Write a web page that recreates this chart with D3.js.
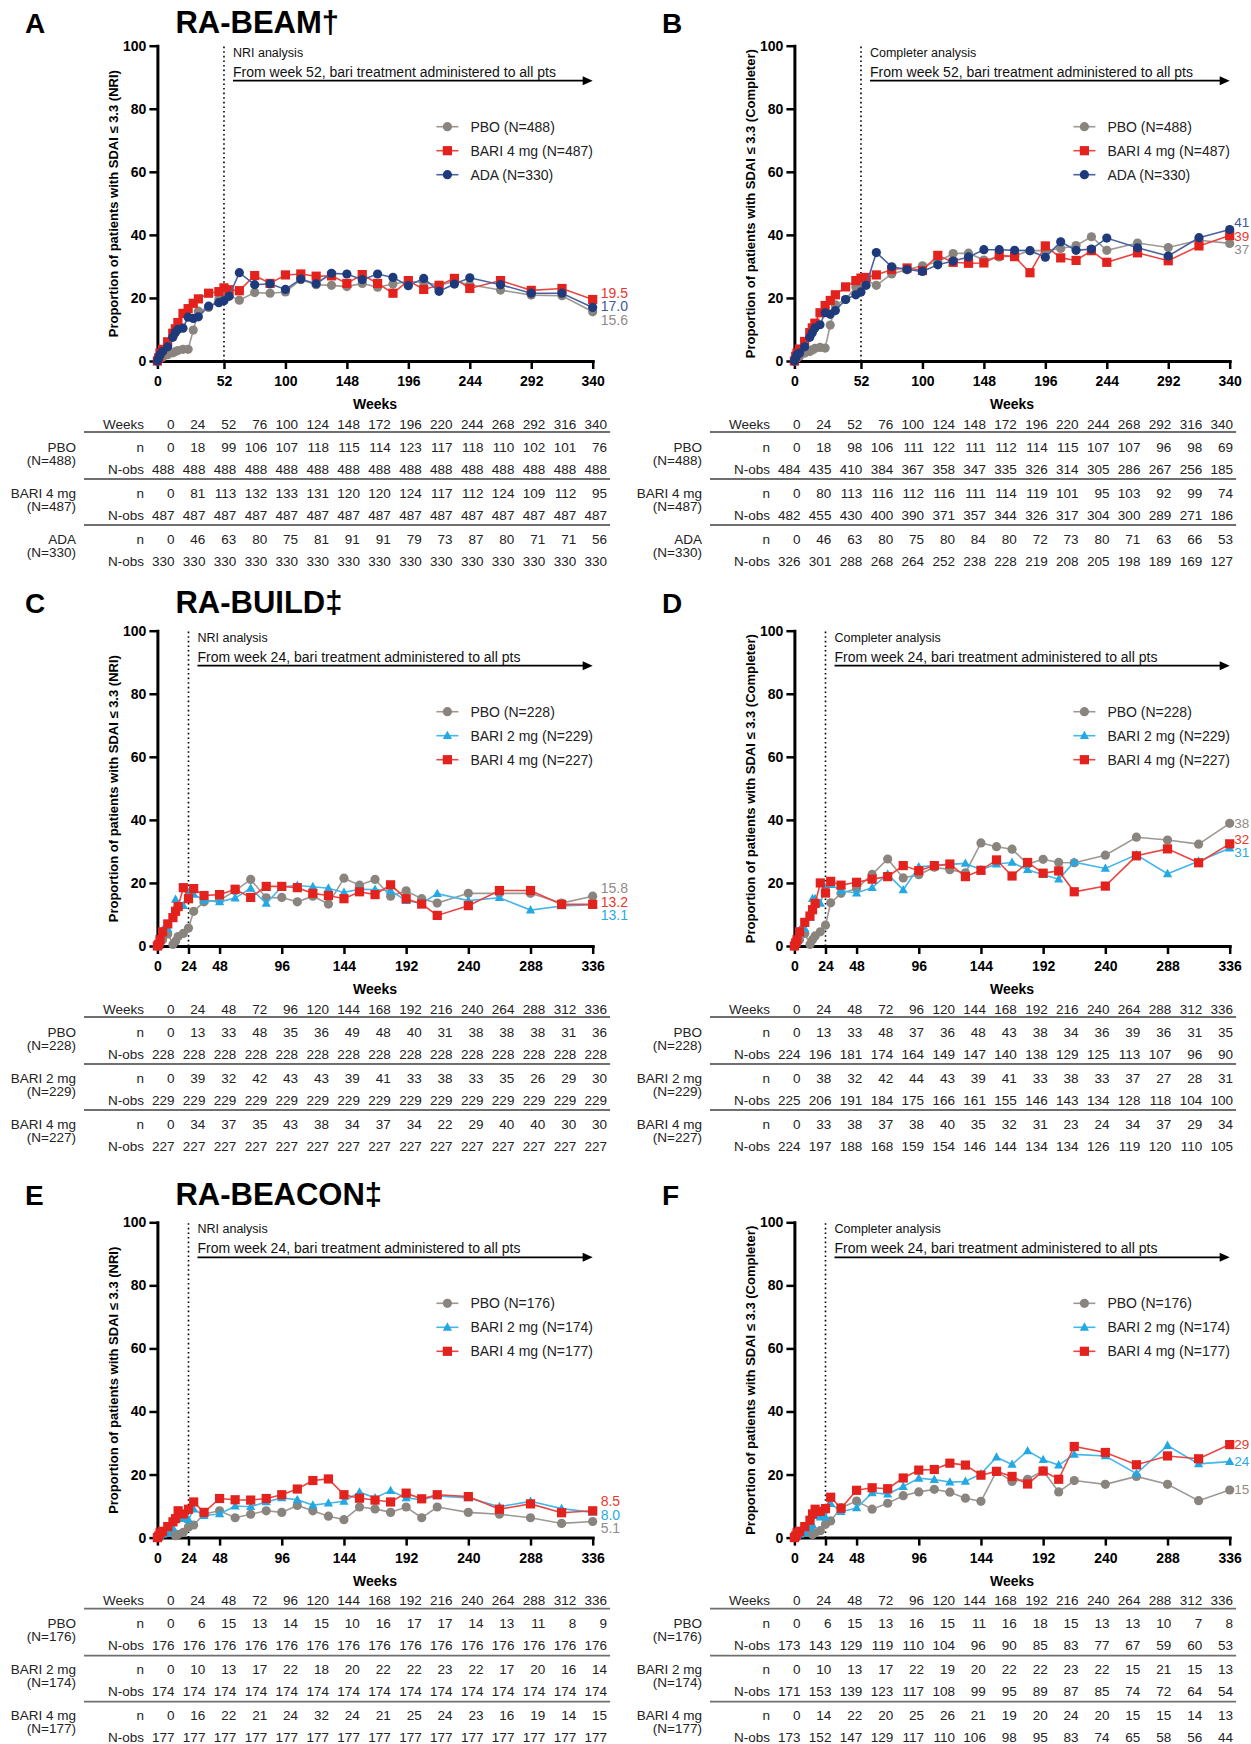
<!DOCTYPE html>
<html><head><meta charset="utf-8">
<script src="https://cdn.jsdelivr.net/npm/d3@7"></script>
<style>
body{margin:0;background:#fff;}
svg{display:block;font-family:Arial,"Liberation Sans",Helvetica,sans-serif;}
</style>
</head><body>
<svg id="c" width="1251" height="1744"></svg>
<script>
// ---------- axis ticks ----------
const yTicks = [0,20,40,60,80,100];
const xTicksBEAM = [0,52,100,148,196,244,292,340];
const xTicksBUILD = [0,24,48,96,144,192,240,288,336];

// ---------- visit weeks ----------
const visitsBEAM = [0,1,2,4,8,12,14,16,20,24,28,32,40,48,52,56,64,76,88,100,112,124,136,148,160,172,184,196,208,220,232,244,268,292,316,340];
const visitsBUILD = [0,1,2,4,8,12,14,16,20,24,28,36,48,60,72,84,96,108,120,132,144,156,168,180,192,204,216,240,264,288,312,336];

// ---------- series (% of patients with SDAI <= 3.3) ----------
const A_PBO   = [0,0.4,0.8,1.2,2.0,2.6,3.0,3.3,3.7,3.7,9.8,15.8,17.0,19.5,20.3,20.8,19.3,21.7,21.5,21.9,25.8,24.2,24.0,23.6,24.6,23.4,24.4,25.2,25.0,24.0,25.3,24.2,22.5,20.9,20.7,15.6];
const A_BARI4 = [0,1.0,2.5,3.7,6.1,8.8,10.2,12.2,15.1,16.6,18.3,19.7,21.5,22.0,23.2,22.6,22.3,27.1,24.6,27.3,27.6,26.9,27.0,24.6,27.4,24.6,21.5,25.5,22.7,24.0,26.2,23.0,25.5,22.4,23.0,19.5];
const A_ADA   = [0,1.0,2.0,3.0,4.5,7.5,9.0,10.0,10.4,13.9,13.5,14.0,17.4,18.5,19.1,20.5,28.0,24.2,24.5,22.7,26.0,24.5,27.8,27.6,25.8,27.6,26.5,23.9,26.2,22.1,24.4,26.4,24.2,21.5,21.5,17.0];

const B_PBO   = [0,0.5,1.0,1.5,2.5,3.0,3.5,4.0,4.3,4.1,11.4,17.8,19.5,23.5,23.9,25.6,24.0,27.6,29.0,30.2,31.5,34.1,34.2,32.0,33.0,33.4,35.0,35.0,35.7,36.6,39.4,35.1,37.4,36.0,38.3,37.3];
const B_BARI4 = [0,1.5,2.5,3.8,6.2,9.0,10.5,12.0,15.3,17.6,19.2,21.0,23.5,25.5,26.3,26.5,27.3,29.0,29.5,28.7,33.5,31.3,31.0,31.1,33.5,33.1,28.0,36.5,32.7,31.9,35.0,31.3,34.3,31.8,36.5,39.8];
const B_ADA   = [0,1.0,2.0,2.5,4.5,7.5,9.0,10.5,11.5,15.3,14.8,16.0,19.5,21.0,21.9,24.0,34.4,29.9,29.0,28.4,30.5,31.7,33.0,35.3,35.3,35.1,35.0,32.9,37.8,35.1,35.5,39.0,35.9,33.3,39.1,41.7];

const C_PBO   = [0,0.5,1.0,2.0,3.8,0.5,1.5,3.0,4.0,5.7,11.0,14.0,14.5,17.5,21.1,15.3,15.4,14.0,15.8,13.3,21.5,19.3,21.1,15.8,17.5,15.0,13.6,16.7,16.7,16.7,13.6,15.8];
const C_BARI2 = [0,1.0,2.5,5.0,5.5,10.0,14.8,12.5,12.8,17.0,16.4,14.5,14.0,15.2,18.3,13.5,18.8,19.2,18.8,18.3,17.0,18.0,17.9,17.5,14.4,13.5,16.6,14.4,15.3,11.4,12.7,13.1];
const C_BARI4 = [0,0.5,2.0,4.5,7.0,9.0,11.0,12.5,18.5,15.0,18.2,16.0,16.3,18.0,15.4,18.9,18.9,18.5,16.7,16.0,15.0,17.2,16.3,19.4,15.0,13.3,9.7,12.8,17.6,17.6,13.2,13.2];

const D_PBO   = [0,0.5,1.0,2.0,4.0,0.5,2.0,3.2,4.5,6.6,13.7,16.7,18.2,22.7,27.6,21.6,22.6,25.0,24.2,23.2,32.7,31.5,30.7,26.0,27.5,26.5,26.4,28.8,34.5,33.6,32.3,38.9];
const D_BARI2 = [0,1.0,2.5,5.0,5.5,9.0,15.0,15.0,13.5,18.4,19.5,17.5,16.8,18.5,22.8,17.8,25.1,25.5,25.9,26.2,24.2,26.0,26.5,24.2,22.6,21.2,26.6,24.6,28.9,22.9,26.9,31.0];
const D_BARI4 = [0,1.0,2.0,4.5,7.5,9.5,11.5,13.5,20.0,16.8,20.5,19.3,20.2,21.2,22.0,25.5,23.9,25.5,26.0,22.0,24.0,27.3,22.2,26.5,23.1,23.8,17.2,19.0,28.6,30.8,26.4,32.4];

const E_PBO   = [0,0.5,1.0,1.5,2.2,1.5,0.6,1.0,1.7,3.4,4.0,7.5,8.5,6.3,7.4,8.5,8.0,10.2,8.5,6.8,5.7,9.7,9.1,8.0,9.7,6.3,9.7,8.0,7.4,6.3,4.5,5.1];
const E_BARI2 = [0,0.3,0.5,1.0,1.5,3.0,6.0,6.2,6.0,5.7,9.0,7.0,7.5,10.0,9.8,11.3,12.6,12.0,10.3,10.9,11.5,14.4,12.6,14.9,12.6,12.0,13.2,12.6,9.8,11.5,9.2,8.0];
const E_BARI4 = [0,0.5,1.5,2.0,3.5,5.0,6.0,8.5,7.5,9.0,11.3,8.0,12.4,12.0,11.9,12.4,13.6,15.4,18.1,18.6,13.6,12.5,11.9,11.3,14.1,12.3,13.6,13.0,9.0,10.7,7.9,8.5];

const F_PBO   = [0,0.5,1.0,1.5,2.2,3.0,1.0,1.5,2.2,4.2,5.3,9.5,11.6,9.0,10.9,13.3,14.5,15.3,14.4,12.5,11.5,21.0,17.8,18.5,21.2,14.5,18.1,16.9,19.4,16.9,11.7,15.1];
const F_BARI2 = [0,0.3,0.5,1.0,1.5,3.0,4.0,7.0,6.5,6.5,10.8,8.2,9.4,14.2,13.8,16.2,18.8,18.4,17.6,17.8,20.2,25.5,23.2,27.5,24.7,23.0,26.4,25.9,20.3,29.2,23.4,24.1];
const F_BARI4 = [0,0.5,1.5,2.0,3.5,5.5,7.5,9.0,8.3,9.2,12.8,9.3,15.0,15.8,15.5,18.9,21.4,21.6,23.6,23.0,19.8,21.0,19.4,17.0,21.1,18.5,28.9,27.0,23.1,25.9,25.0,29.5];

// end-of-line labels (series order), as shown in the picture
const endA = ['15.6','19.5','17.0'];
const endB = ['37','39','41'];
const endC = ['15.8','13.1','13.2'];
const endD = ['38','31','32'];
const endE = ['5.1','8.0','8.5'];
const endF = ['15','24','29'];

// ---------- tables ----------
const tWeeksBEAM  = [0,24,52,76,100,124,148,172,196,220,244,268,292,316,340];
const tWeeksBUILD = [0,24,48,72,96,120,144,168,192,216,240,264,288,312,336];

const tA_PBO_n    = [0,18,99,106,107,118,115,114,123,117,118,110,102,101,76];
const tA_PBO_obs  = [488,488,488,488,488,488,488,488,488,488,488,488,488,488,488];
const tA_BARI4_n  = [0,81,113,132,133,131,120,120,124,117,112,124,109,112,95];
const tA_BARI4_obs= [487,487,487,487,487,487,487,487,487,487,487,487,487,487,487];
const tA_ADA_n    = [0,46,63,80,75,81,91,91,79,73,87,80,71,71,56];
const tA_ADA_obs  = [330,330,330,330,330,330,330,330,330,330,330,330,330,330,330];

const tB_PBO_n    = [0,18,98,106,111,122,111,112,114,115,107,107,96,98,69];
const tB_PBO_obs  = [484,435,410,384,367,358,347,335,326,314,305,286,267,256,185];
const tB_BARI4_n  = [0,80,113,116,112,116,111,114,119,101,95,103,92,99,74];
const tB_BARI4_obs= [482,455,430,400,390,371,357,344,326,317,304,300,289,271,186];
const tB_ADA_n    = [0,46,63,80,75,80,84,80,72,73,80,71,63,66,53];
const tB_ADA_obs  = [326,301,288,268,264,252,238,228,219,208,205,198,189,169,127];

const tC_PBO_n    = [0,13,33,48,35,36,49,48,40,31,38,38,38,31,36];
const tC_PBO_obs  = [228,228,228,228,228,228,228,228,228,228,228,228,228,228,228];
const tC_BARI2_n  = [0,39,32,42,43,43,39,41,33,38,33,35,26,29,30];
const tC_BARI2_obs= [229,229,229,229,229,229,229,229,229,229,229,229,229,229,229];
const tC_BARI4_n  = [0,34,37,35,43,38,34,37,34,22,29,40,40,30,30];
const tC_BARI4_obs= [227,227,227,227,227,227,227,227,227,227,227,227,227,227,227];

const tD_PBO_n    = [0,13,33,48,37,36,48,43,38,34,36,39,36,31,35];
const tD_PBO_obs  = [224,196,181,174,164,149,147,140,138,129,125,113,107,96,90];
const tD_BARI2_n  = [0,38,32,42,44,43,39,41,33,38,33,37,27,28,31];
const tD_BARI2_obs= [225,206,191,184,175,166,161,155,146,143,134,128,118,104,100];
const tD_BARI4_n  = [0,33,38,37,38,40,35,32,31,23,24,34,37,29,34];
const tD_BARI4_obs= [224,197,188,168,159,154,146,144,134,134,126,119,120,110,105];

const tE_PBO_n    = [0,6,15,13,14,15,10,16,17,17,14,13,11,8,9];
const tE_PBO_obs  = [176,176,176,176,176,176,176,176,176,176,176,176,176,176,176];
const tE_BARI2_n  = [0,10,13,17,22,18,20,22,22,23,22,17,20,16,14];
const tE_BARI2_obs= [174,174,174,174,174,174,174,174,174,174,174,174,174,174,174];
const tE_BARI4_n  = [0,16,22,21,24,32,24,21,25,24,23,16,19,14,15];
const tE_BARI4_obs= [177,177,177,177,177,177,177,177,177,177,177,177,177,177,177];

const tF_PBO_n    = [0,6,15,13,16,15,11,16,18,15,13,13,10,7,8];
const tF_PBO_obs  = [173,143,129,119,110,104,96,90,85,83,77,67,59,60,53];
const tF_BARI2_n  = [0,10,13,17,22,19,20,22,22,23,22,15,21,15,13];
const tF_BARI2_obs= [171,153,139,123,117,108,99,95,89,87,85,74,72,64,54];
const tF_BARI4_n  = [0,14,22,20,25,26,21,19,20,24,20,15,15,14,13];
const tF_BARI4_obs= [173,152,147,129,117,110,106,98,95,83,74,65,58,56,44];

// ---------- styles ----------
const styles = {
  pbo:   {fill:'#8a847f', line:'#9d9893', shape:'circle',   label:'#8f8b87'},
  bari4: {fill:'#e3221e', line:'#ea4541', shape:'square',   label:'#e8392f'},
  ada:   {fill:'#1e3a7a', line:'#4863a0', shape:'circle',   label:'#3b5a9a'},
  bari2: {fill:'#22a8e2', line:'#45b6e8', shape:'triangle', label:'#29abe2'}
};

const ylabNRI = 'Proportion of patients with SDAI \u2264 3.3 (NRI)';
const ylabComp = 'Proportion of patients with SDAI \u2264 3.3 (Completer)';
const from52 = 'From week 52, bari treatment administered to all pts';
const from24 = 'From week 24, bari treatment administered to all pts';

const panels = [
  {letter:'A', title:'RA-BEAM\u2020', col:0, row:0, visits:visitsBEAM, xmax:340, xticks:xTicksBEAM, cut:52,
   analysis:'NRI analysis', from:from52, ylab:ylabNRI, ends:endA,
   series:[{name:'PBO (N=488)',k:'pbo',v:A_PBO},{name:'BARI 4 mg (N=487)',k:'bari4',v:A_BARI4},{name:'ADA (N=330)',k:'ada',v:A_ADA}],
   tweeks:tWeeksBEAM,
   groups:[{l:['PBO','(N=488)'],n:tA_PBO_n,o:tA_PBO_obs},{l:['BARI 4 mg','(N=487)'],n:tA_BARI4_n,o:tA_BARI4_obs},{l:['ADA','(N=330)'],n:tA_ADA_n,o:tA_ADA_obs}]},
  {letter:'B', title:null, col:1, row:0, visits:visitsBEAM, xmax:340, xticks:xTicksBEAM, cut:52,
   analysis:'Completer analysis', from:from52, ylab:ylabComp, ends:endB,
   series:[{name:'PBO (N=488)',k:'pbo',v:B_PBO},{name:'BARI 4 mg (N=487)',k:'bari4',v:B_BARI4},{name:'ADA (N=330)',k:'ada',v:B_ADA}],
   tweeks:tWeeksBEAM,
   groups:[{l:['PBO','(N=488)'],n:tB_PBO_n,o:tB_PBO_obs},{l:['BARI 4 mg','(N=487)'],n:tB_BARI4_n,o:tB_BARI4_obs},{l:['ADA','(N=330)'],n:tB_ADA_n,o:tB_ADA_obs}]},
  {letter:'C', title:'RA-BUILD\u2021', col:0, row:1, visits:visitsBUILD, xmax:336, xticks:xTicksBUILD, cut:24,
   analysis:'NRI analysis', from:from24, ylab:ylabNRI, ends:endC,
   series:[{name:'PBO (N=228)',k:'pbo',v:C_PBO},{name:'BARI 2 mg (N=229)',k:'bari2',v:C_BARI2},{name:'BARI 4 mg (N=227)',k:'bari4',v:C_BARI4}],
   tweeks:tWeeksBUILD,
   groups:[{l:['PBO','(N=228)'],n:tC_PBO_n,o:tC_PBO_obs},{l:['BARI 2 mg','(N=229)'],n:tC_BARI2_n,o:tC_BARI2_obs},{l:['BARI 4 mg','(N=227)'],n:tC_BARI4_n,o:tC_BARI4_obs}]},
  {letter:'D', title:null, col:1, row:1, visits:visitsBUILD, xmax:336, xticks:xTicksBUILD, cut:24,
   analysis:'Completer analysis', from:from24, ylab:ylabComp, ends:endD,
   series:[{name:'PBO (N=228)',k:'pbo',v:D_PBO},{name:'BARI 2 mg (N=229)',k:'bari2',v:D_BARI2},{name:'BARI 4 mg (N=227)',k:'bari4',v:D_BARI4}],
   tweeks:tWeeksBUILD,
   groups:[{l:['PBO','(N=228)'],n:tD_PBO_n,o:tD_PBO_obs},{l:['BARI 2 mg','(N=229)'],n:tD_BARI2_n,o:tD_BARI2_obs},{l:['BARI 4 mg','(N=227)'],n:tD_BARI4_n,o:tD_BARI4_obs}]},
  {letter:'E', title:'RA-BEACON\u2021', col:0, row:2, visits:visitsBUILD, xmax:336, xticks:xTicksBUILD, cut:24,
   analysis:'NRI analysis', from:from24, ylab:ylabNRI, ends:endE,
   series:[{name:'PBO (N=176)',k:'pbo',v:E_PBO},{name:'BARI 2 mg (N=174)',k:'bari2',v:E_BARI2},{name:'BARI 4 mg (N=177)',k:'bari4',v:E_BARI4}],
   tweeks:tWeeksBUILD,
   groups:[{l:['PBO','(N=176)'],n:tE_PBO_n,o:tE_PBO_obs},{l:['BARI 2 mg','(N=174)'],n:tE_BARI2_n,o:tE_BARI2_obs},{l:['BARI 4 mg','(N=177)'],n:tE_BARI4_n,o:tE_BARI4_obs}]},
  {letter:'F', title:null, col:1, row:2, visits:visitsBUILD, xmax:336, xticks:xTicksBUILD, cut:24,
   analysis:'Completer analysis', from:from24, ylab:ylabComp, ends:endF,
   series:[{name:'PBO (N=176)',k:'pbo',v:F_PBO},{name:'BARI 2 mg (N=174)',k:'bari2',v:F_BARI2},{name:'BARI 4 mg (N=177)',k:'bari4',v:F_BARI4}],
   tweeks:tWeeksBUILD,
   groups:[{l:['PBO','(N=176)'],n:tF_PBO_n,o:tF_PBO_obs},{l:['BARI 2 mg','(N=174)'],n:tF_BARI2_n,o:tF_BARI2_obs},{l:['BARI 4 mg','(N=177)'],n:tF_BARI4_n,o:tF_BARI4_obs}]}
];

// ---------- layout ----------
const rowTops = [45.7, 630.7, 1222.3];
const titleBase = [33, 613, 1205];
const PW = 435.3, PH = 315.3;
const colLeft = [157.4, 794.4];
const tblOff = [0, 626];

const svg = d3.select('#c');
svg.append('rect').attr('width',1251).attr('height',1744).attr('fill','#fff');

function marker(g, k, cx, cy){
  const s = styles[k];
  if (s.shape==='circle'){
    g.append('circle').attr('cx',cx).attr('cy',cy).attr('r',4.6).attr('fill',s.fill);
  } else if (s.shape==='square'){
    g.append('rect').attr('x',cx-4.6).attr('y',cy-4.6).attr('width',9.2).attr('height',9.2).attr('fill',s.fill);
  } else {
    const h = 8;
    g.append('path').attr('d',`M${cx},${cy-h*0.62}L${cx+4.6},${cy+h*0.42}L${cx-4.6},${cy+h*0.42}Z`).attr('fill',s.fill);
  }
}

panels.forEach(p => {
  const left = colLeft[p.col], top = rowTops[p.row];
  const x = d3.scaleLinear().domain([0,p.xmax]).range([left, left+PW]);
  const y = d3.scaleLinear().domain([0,100]).range([top+PH, top]);
  const g = svg.append('g');

  // panel letter and title
  g.append('text').attr('x', left-132.5).attr('y', titleBase[p.row]).text(p.letter)
    .attr('font-size',28).attr('font-weight','bold').attr('fill','#000');
  if (p.title) g.append('text').attr('x', left+18).attr('y', titleBase[p.row]).text(p.title)
    .attr('font-size',31).attr('font-weight','bold').attr('fill','#000');

  // y axis
  const ya = g.append('g').attr('transform',`translate(${left},0)`)
    .call(d3.axisLeft(y).tickValues(yTicks).tickSize(8).tickSizeOuter(0).tickPadding(3));
  // x axis
  const xa = g.append('g').attr('transform',`translate(0,${top+PH})`)
    .call(d3.axisBottom(x).tickValues(p.xticks).tickSize(8).tickSizeOuter(0).tickPadding(7));
  [ya, xa].forEach(a => {
    a.select('.domain').attr('stroke','#000').attr('stroke-width',3).attr('stroke-linecap','square');
    a.selectAll('.tick line').attr('stroke','#000').attr('stroke-width',2.5);
    a.selectAll('.tick text').attr('font-size',14).attr('font-weight','bold')
      .attr('font-family','Arial,"Liberation Sans",sans-serif').attr('fill','#000');
  });

  // axis titles
  g.append('text').attr('transform',`translate(${left-44},${top+158}) rotate(-90)`)
    .attr('text-anchor','middle').attr('dominant-baseline','central')
    .attr('font-size',13).attr('font-weight','bold').text(p.ylab);
  g.append('text').attr('x', left+PW/2).attr('y', top+PH+43).attr('text-anchor','middle')
    .attr('dominant-baseline','central').attr('font-size',14).attr('font-weight','bold').text('Weeks');

  // dotted line at cut week
  const xc = x(p.cut);
  g.append('line').attr('x1',xc).attr('x2',xc).attr('y1',y(0)).attr('y2',y(100))
    .attr('stroke','#000').attr('stroke-width',1.6).attr('stroke-dasharray','1.6,3');
  g.append('text').attr('x',xc+9).attr('y',top+7).attr('dominant-baseline','central')
    .attr('font-size',12.5).attr('fill','#111').text(p.analysis);
  g.append('text').attr('x',xc+9).attr('y',top+26).attr('dominant-baseline','central')
    .attr('font-size',14).attr('fill','#111').text(p.from);
  const ay = top+35, ax2 = x(p.xmax);
  g.append('line').attr('x1',xc+9).attr('x2',ax2-8).attr('y1',ay).attr('y2',ay)
    .attr('stroke','#000').attr('stroke-width',1.8);
  g.append('path').attr('d',`M${ax2},${ay}L${ax2-10},${ay-4.5}L${ax2-10},${ay+4.5}Z`).attr('fill','#000');

  // series
  p.series.forEach(s => {
    const st = styles[s.k];
    const pts = p.visits.map((w,i)=>[x(w), y(s.v[i])]);
    g.append('path').attr('d', d3.line()(pts)).attr('fill','none')
      .attr('stroke',st.line).attr('stroke-width',1.6);
    pts.forEach(pt => marker(g, s.k, pt[0], pt[1]));
  });

  // end labels
  const labs = p.series.map((s,i) => ({k:s.k, t:p.ends[i], y:y(s.v[s.v.length-1])}));
  labs.sort((a,b)=>a.y-b.y);
  for (let it=0; it<60; it++){
    for (let i=1;i<labs.length;i++){
      const d = labs[i].y - labs[i-1].y;
      if (d < 13.5){ const o=(13.5-d)/2; labs[i].y+=o; labs[i-1].y-=o; }
    }
  }
  const lx = x(p.xmax) + (p.col===0 ? 8 : 4.5);
  labs.forEach(l => g.append('text').attr('x', lx).attr('y', l.y)
    .attr('dominant-baseline','central').attr('font-size',p.col===0?14:13.5)
    .attr('fill',styles[l.k].label).text(l.t));

  // legend
  p.series.forEach((s,i) => {
    const ly = top + 81 + i*24;
    g.append('line').attr('x1',left+279).attr('x2',left+301).attr('y1',ly).attr('y2',ly)
      .attr('stroke',styles[s.k].line).attr('stroke-width',1.6);
    marker(g, s.k, left+290, ly);
    g.append('text').attr('x',left+313).attr('y',ly).attr('dominant-baseline','central')
      .attr('font-size',14).attr('fill','#222').text(s.name);
  });

  // table
  const to = tblOff[p.col];
  const hy = top + 378.3;
  const labR = 76 + to, nR = 144 + to, c0 = 174.5 + to, step = 30.9;
  const lineX1 = 84 + to, lineX2 = c0 + step*14 + 3;
  const tg = g.append('g').attr('font-size',13.5).attr('fill','#222');
  const cell = (xx, yy, t, anchor='end') => tg.append('text').attr('x',xx).attr('y',yy)
    .attr('text-anchor',anchor).attr('dominant-baseline','central').text(t);
  cell(nR, hy, 'Weeks');
  p.tweeks.forEach((w,i)=>cell(c0+i*step, hy, w));
  const sep = yy => tg.append('line').attr('x1',lineX1).attr('x2',lineX2).attr('y1',yy).attr('y2',yy)
    .attr('stroke','#6f6f6f').attr('stroke-width',1.8);
  sep(hy+8);
  const gOff = [23, 69, 115];
  p.groups.forEach((gr,gi) => {
    const ny = hy + gOff[gi], oy = ny + 22;
    cell(labR, ny, gr.l[0]);
    cell(labR, ny+13, gr.l[1]);
    cell(nR, ny, 'n');
    cell(nR, oy, 'N-obs');
    gr.n.forEach((v,i)=>cell(c0+i*step, ny, v));
    gr.o.forEach((v,i)=>cell(c0+i*step, oy, v));
    if (gi<2) sep(oy+10);
  });
});
</script>
</body></html>
